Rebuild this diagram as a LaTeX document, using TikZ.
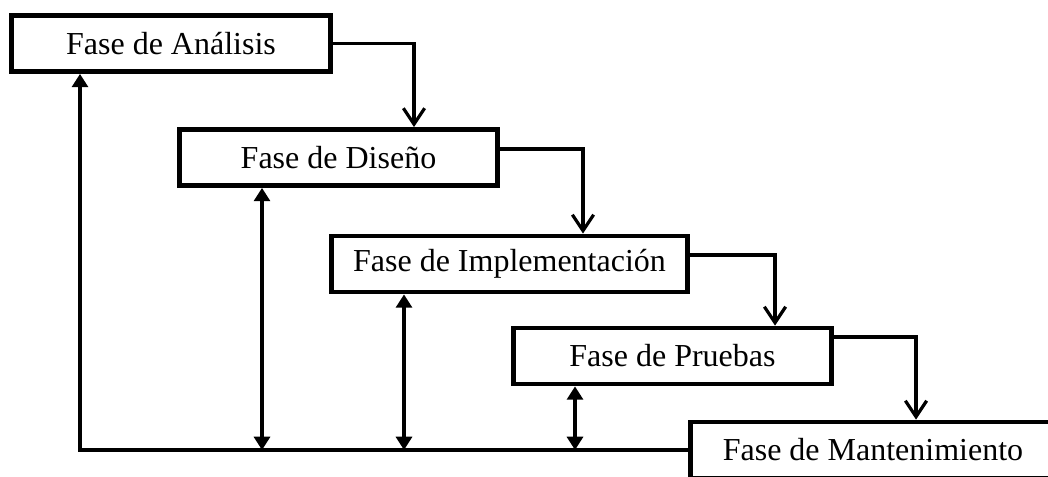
\documentclass[tikz,border=0pt]{standalone}
\usepackage{fontspec}
\setmainfont{Liberation Serif}
\usetikzlibrary{positioning, calc, arrows.meta}

\tikzset{
	fase/.style={draw, line width=3.6pt, minimum height=42pt, inner sep=0pt, font=\fontsize{24}{28}\selectfont},
	paso/.style={line width=2.4pt, -{Straight Barb[length=12pt,width=16pt]}},
	retro/.style={line width=2.4pt, {Triangle[length=10pt,width=12pt]}-{Triangle[length=10pt,width=12pt]}},
	vuelta/.style={line width=3pt, -{Triangle[length=10pt,width=12pt]}}
}

\begin{document}
\begin{tikzpicture}[x=0.75pt, y=-0.75pt]
		\useasboundingbox (0,0) rectangle (1048,476);
		\clip (0,0) rectangle (1048,476);
		\node[fase, minimum width=239pt] (ana) at (171,43.5) {Fase de Análisis};
		\node[fase, minimum width=239pt] (dis) at (338.5,157.5) {Fase de Diseño};
		\node[fase, minimum width=267pt] (imp) at (509.5,264) {Fase de Implementación};
		\node[fase, minimum width=239pt] (pru) at (672.5,356) {Fase de Pruebas};
		\node[fase, minimum width=274pt] (man) at (873,450) {Fase de Mantenimiento};
		\draw[paso] (ana.east) -| ($(dis.north)+(75.5,0)$);
		\draw[paso] ($(dis.east)+(0,-8.5)$) -| ($(imp.north)+(73.5,0)$);
		\draw[paso] ($(imp.east)+(0,-9)$) -| ($(pru.north)+(102.5,0)$);
		\draw[paso] ($(pru.east)+(0,-19)$) -| ($(man.north)+(43,0)$);
		\draw[vuelta] (man.west) -| ($(ana.south)+(-91,0)$);
		\coordinate (r1) at ($(dis.south)+(-76.5,0)$);
		\coordinate (r2) at ($(imp.south)+(-105.5,0)$);
		\coordinate (r3) at ($(pru.south)+(-97.5,0)$);
		\draw[retro] (r1) -- (r1 |- man.west);
		\draw[retro] (r2) -- (r2 |- man.west);
		\draw[retro] (r3) -- (r3 |- man.west);
	\end{tikzpicture}
\end{document}
